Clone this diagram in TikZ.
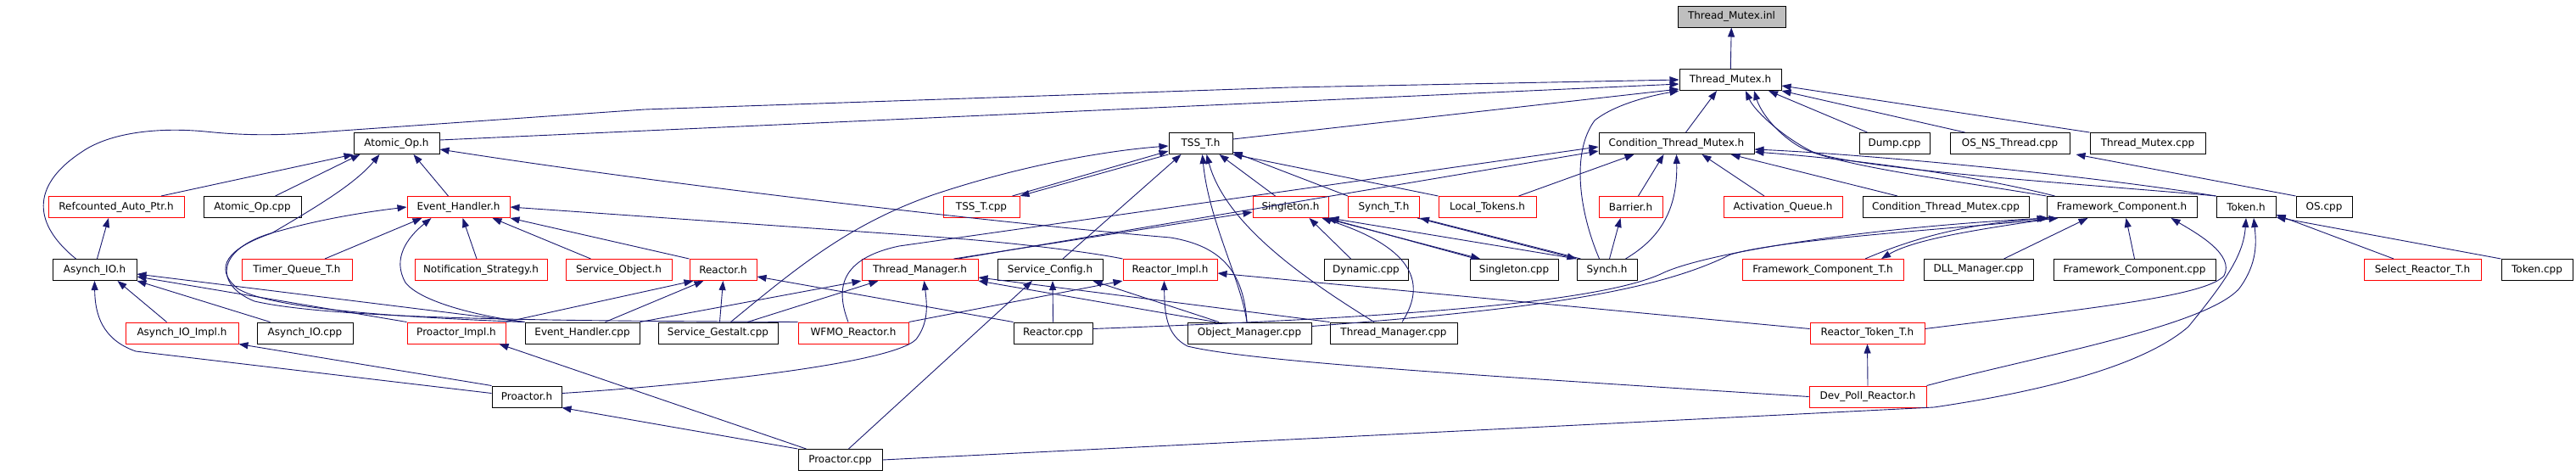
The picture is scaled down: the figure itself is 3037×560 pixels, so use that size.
\documentclass[tikz,border=0pt]{standalone}
\usepackage{fontspec}
\setmainfont{DejaVu Sans}
\usepackage{tikz}
\usetikzlibrary{arrows.meta}
\definecolor{edgeblue}{HTML}{191970}
\definecolor{boxred}{HTML}{FF0000}
\definecolor{rootgrey}{HTML}{BFBFBF}
\tikzstyle{filebox} = [rectangle, draw=black, fill=white, line width=1pt, minimum height=25pt, inner sep=0pt, font=\fontsize{12}{14}\selectfont]
\tikzstyle{undocfile} = [filebox, draw=boxred]
\tikzstyle{rootfile} = [filebox, fill=rootgrey]
\tikzstyle{includearrow} = [-{Triangle[length=11pt,width=8pt]}, draw=edgeblue, line width=0.9pt]

\begin{document}
\begin{tikzpicture}[x=1pt, y=-1pt]
	\useasboundingbox (0,0) rectangle (3037,560);
	\fill[white] (0,0) rectangle (3037,560);
	% top rows
	\node (thread_mutex_inl) [rootfile, minimum width=127pt] at (2041.5,19.5) {Thread\_Mutex.inl};
	\node (thread_mutex_h) [filebox, minimum width=120pt] at (2040,94) {Thread\_Mutex.h};
	\node (atomic_op_h) [filebox, minimum width=101pt] at (467.5,169) {Atomic\_Op.h};
	\node (tss_t_h) [filebox, minimum width=75pt] at (1415.5,169) {TSS\_T.h};
	\node (cond_thread_mutex_h) [filebox, minimum width=183pt] at (1976.5,169) {Condition\_Thread\_Mutex.h};
	\node (dump_cpp) [filebox, minimum width=83pt] at (2233.5,169) {Dump.cpp};
	\node (os_ns_thread_cpp) [filebox, minimum width=141pt] at (2369.5,169) {OS\_NS\_Thread.cpp};
	\node (thread_mutex_cpp) [filebox, minimum width=136pt] at (2532,169) {Thread\_Mutex.cpp};
	% fourth row
	\node (refcounted_auto_ptr_h) [undocfile, minimum width=160pt] at (137,244) {Refcounted\_Auto\_Ptr.h};
	\node (atomic_op_cpp) [filebox, minimum width=115pt] at (297.5,244) {Atomic\_Op.cpp};
	\node (event_handler_h) [undocfile, minimum width=121pt] at (540.5,244) {Event\_Handler.h};
	\node (tss_t_cpp) [undocfile, minimum width=90pt] at (1157,244) {TSS\_T.cpp};
	\node (singleton_h) [undocfile, minimum width=89pt] at (1521.5,244) {Singleton.h};
	\node (synch_t_h) [undocfile, minimum width=84pt] at (1631.5,244) {Synch\_T.h};
	\node (local_tokens_h) [undocfile, minimum width=115pt] at (1753.5,244) {Local\_Tokens.h};
	\node (barrier_h) [undocfile, minimum width=75pt] at (1922.5,244) {Barrier.h};
	\node (activation_queue_h) [undocfile, minimum width=140pt] at (2102,244) {Activation\_Queue.h};
	\node (cond_thread_mutex_cpp) [filebox, minimum width=196pt] at (2294,244) {Condition\_Thread\_Mutex.cpp};
	\node (framework_component_h) [filebox, minimum width=177pt] at (2501.5,244) {Framework\_Component.h};
	\node (token_h) [filebox, minimum width=70pt] at (2648,244) {Token.h};
	\node (os_cpp) [filebox, minimum width=66pt] at (2740,244) {OS.cpp};
	% fifth row
	\node (asynch_io_h) [filebox, minimum width=99pt] at (111.5,318) {Asynch\_IO.h};
	\node (timer_queue_t_h) [undocfile, minimum width=130pt] at (350,318) {Timer\_Queue\_T.h};
	\node (notification_strategy_h) [undocfile, minimum width=156pt] at (567,318) {Notification\_Strategy.h};
	\node (service_object_h) [undocfile, minimum width=125pt] at (729.5,318) {Service\_Object.h};
	\node (reactor_h) [undocfile, minimum width=79pt] at (852.5,318) {Reactor.h};
	\node (thread_manager_h) [undocfile, minimum width=137pt] at (1084.5,318) {Thread\_Manager.h};
	\node (service_config_h) [filebox, minimum width=124pt] at (1238,318) {Service\_Config.h};
	\node (reactor_impl_h) [undocfile, minimum width=111pt] at (1379.5,318) {Reactor\_Impl.h};
	\node (dynamic_cpp) [filebox, minimum width=99pt] at (1610.5,318) {Dynamic.cpp};
	\node (singleton_cpp) [filebox, minimum width=104pt] at (1785,318) {Singleton.cpp};
	\node (synch_h) [filebox, minimum width=71pt] at (1894.5,318) {Synch.h};
	\node (framework_component_t_h) [undocfile, minimum width=190pt] at (2149,318) {Framework\_Component\_T.h};
	\node (dll_manager_cpp) [filebox, minimum width=129pt] at (2332.5,318) {DLL\_Manager.cpp};
	\node (framework_component_cpp) [filebox, minimum width=191pt] at (2516.5,318) {Framework\_Component.cpp};
	\node (select_reactor_t_h) [undocfile, minimum width=138pt] at (2856,318) {Select\_Reactor\_T.h};
	\node (token_cpp) [filebox, minimum width=84pt] at (2991,318) {Token.cpp};
	% sixth row
	\node (asynch_io_impl_h) [undocfile, minimum width=133pt] at (214.5,392.5) {Asynch\_IO\_Impl.h};
	\node (asynch_io_cpp) [filebox, minimum width=113pt] at (359.5,392.5) {Asynch\_IO.cpp};
	\node (proactor_impl_h) [undocfile, minimum width=116pt] at (538,392.5) {Proactor\_Impl.h};
	\node (event_handler_cpp) [filebox, minimum width=135pt] at (686.5,392.5) {Event\_Handler.cpp};
	\node (service_gestalt_cpp) [filebox, minimum width=141pt] at (846.5,392.5) {Service\_Gestalt.cpp};
	\node (wfmo_reactor_h) [undocfile, minimum width=130pt] at (1006,392.5) {WFMO\_Reactor.h};
	\node (reactor_cpp) [filebox, minimum width=93pt] at (1241.5,392.5) {Reactor.cpp};
	\node (object_manager_cpp) [filebox, minimum width=146pt] at (1473,392.5) {Object\_Manager.cpp};
	\node (thread_manager_cpp) [filebox, minimum width=150pt] at (1643,392.5) {Thread\_Manager.cpp};
	\node (reactor_token_t_h) [undocfile, minimum width=135pt] at (2201.5,392.5) {Reactor\_Token\_T.h};
	% bottom rows
	\node (proactor_h) [filebox, minimum width=82pt] at (621,467.5) {Proactor.h};
	\node (dev_poll_reactor_h) [undocfile, minimum width=138pt] at (2202,467.5) {Dev\_Poll\_Reactor.h};
	\node (proactor_cpp) [filebox, minimum width=99pt] at (990.5,542) {Proactor.cpp};

	% Thread_Mutex.h and Thread_Mutex.inl
	\draw [includearrow] (thread_mutex_h) -- (thread_mutex_inl);
	\draw [includearrow] ([xshift=-22pt]asynch_io_h.north) .. controls (40,265) and (35,220) .. (95,180) .. controls (130,155) and (190,150) .. (242,155) .. controls (290,160) and (330,160) .. (388,155) -- (760,129) -- (1520,103) -- (thread_mutex_h.west);
	\draw [includearrow] ([yshift=4pt]atomic_op_h.east) -- ([yshift=-5pt]thread_mutex_h.west);
	\draw [includearrow] ([yshift=5pt]tss_t_h.east) -- ([yshift=2pt]thread_mutex_h.south west);
	\draw [includearrow] ([xshift=11pt]cond_thread_mutex_h.north) -- ([xshift=-16pt]thread_mutex_h.south);
	\draw [includearrow] ([xshift=-9pt]synch_h.north) .. controls (1862,250) and (1852,180) .. (1880,142) .. controls (1905,122) and (1950,112) .. (thread_mutex_h.south west);
	\draw [includearrow] ([xshift=-32pt]dump_cpp.north) -- ([xshift=45pt]thread_mutex_h.south);
	\draw [includearrow] ([xshift=-53pt]os_ns_thread_cpp.north) -- (thread_mutex_h.south east);
	\draw [includearrow] (thread_mutex_cpp.north west) -- ([yshift=-7pt]thread_mutex_h.east);
	\draw [includearrow] (framework_component_h.north west) .. controls (2300,212) and (2160,195) .. (2120,172) .. controls (2092,155) and (2075,130) .. ([xshift=28pt]thread_mutex_h.south);
	\draw [includearrow] (token_h.north west) .. controls (2500,220) and (2180,200) .. (2135,178) .. controls (2100,160) and (2068,130) .. ([xshift=18pt]thread_mutex_h.south);
	\draw [includearrow] (os_cpp.north west) -- ([xshift=7pt]os_ns_thread_cpp.south east);

	% Condition_Thread_Mutex.h
	\draw [includearrow] (token_h.north west) .. controls (2450,205) and (2200,182) .. ([yshift=-7pt]cond_thread_mutex_h.east);
	\draw [includearrow] ([xshift=10pt]framework_component_h.north west) .. controls (2300,200) and (2150,185) .. ([yshift=-10pt]cond_thread_mutex_h.east);
	\draw [includearrow] ([xshift=-57pt]cond_thread_mutex_cpp.north) -- ([xshift=64pt]cond_thread_mutex_h.south);
	\draw [includearrow] ([xshift=-22pt]activation_queue_h.north) -- ([xshift=30pt]cond_thread_mutex_h.south);
	\draw [includearrow] ([xshift=9pt]barrier_h.north) -- ([xshift=-15pt]cond_thread_mutex_h.south);
	\draw [includearrow] ([xshift=22pt]synch_h.north) .. controls (1955,282) and (1978,250) .. (cond_thread_mutex_h.south);
	\draw [includearrow] ([xshift=37pt]local_tokens_h.north) -- ([xshift=-50pt]cond_thread_mutex_h.south);
	\draw [includearrow] ([xshift=3pt]synch_h.north) -- ([xshift=-12pt]barrier_h.south);
	\draw [includearrow] ([xshift=45pt]thread_manager_h.north) -- ([yshift=-9pt]cond_thread_mutex_h.west);
	\draw [includearrow] ([xshift=-6pt]wfmo_reactor_h.north) .. controls (985,340) and (990,305) .. (1060,290) -- ([yshift=-4pt]cond_thread_mutex_h.west);

	% TSS_T.h
	\draw [includearrow] (synch_t_h.north west) -- ([yshift=3pt]tss_t_h.south east);
	\draw [includearrow] (local_tokens_h.north west) -- (tss_t_h.south east);
	\draw [includearrow] ([xshift=-9pt]tss_t_cpp.north east) -- ([yshift=4pt]tss_t_h.south west);
	\draw [includearrow] (tss_t_h.south west) -- (tss_t_cpp.north east);
	\draw [includearrow] ([xshift=15pt]service_gestalt_cpp.north) .. controls (940,315) and (1000,265) .. (1099,230) .. controls (1200,196) and (1300,178) .. ([yshift=-3pt]tss_t_h.west);
	\draw [includearrow] ([xshift=15pt]service_config_h.north) -- ([xshift=-23pt]tss_t_h.south);
	\draw [includearrow] ([xshift=-18pt]singleton_h.north) -- ([xshift=22pt]tss_t_h.south);
	\draw [includearrow] ([xshift=-3pt]object_manager_cpp.north) .. controls (1463,330) and (1425,260) .. ([xshift=2pt]tss_t_h.south);
	\draw [includearrow] ([xshift=-23pt]thread_manager_cpp.north) .. controls (1540,330) and (1445,265) .. ([xshift=7pt]tss_t_h.south);

	% Singleton.h and Synch.h
	\draw [includearrow] ([xshift=-18pt]dynamic_cpp.north) -- ([xshift=22pt]singleton_h.south);
	\draw [includearrow] ([xshift=-45pt]singleton_cpp.north) -- ([xshift=-2pt]singleton_h.south east);
	\draw [includearrow] ([xshift=-5pt]singleton_h.south east) -- ([xshift=-40pt]singleton_cpp.north);
	\draw [includearrow] (synch_h.north west) -- ([xshift=1pt]singleton_h.south east);
	\draw [includearrow] ([xshift=10pt]thread_manager_cpp.north) .. controls (1685,330) and (1660,290) .. ([xshift=-8pt]singleton_h.south east);
	\draw [includearrow] ([xshift=40pt]thread_manager_h.north) -- ([yshift=-6pt]singleton_h.west);
	\draw [includearrow] ([xshift=5pt]synch_h.north west) -- (synch_t_h.south east);
	\draw [includearrow] ([xshift=-3pt]synch_t_h.south east) -- (synch_h.north west);

	% Framework_Component.h
	\draw [includearrow] ([xshift=30pt]dll_manager_cpp.north) -- ([xshift=-40pt]framework_component_h.south);
	\draw [includearrow] (framework_component_cpp.north) -- ([xshift=5pt]framework_component_h.south);
	\draw [includearrow] ([yshift=5pt]reactor_token_t_h.east) .. controls (2450,365) and (2600,350) .. (2622,325) .. controls (2635,300) and (2590,275) .. ([xshift=58pt]framework_component_h.south);
	\draw [includearrow] ([xshift=50pt]framework_component_t_h.north) .. controls (2280,270) and (2350,262) .. (framework_component_h.south west);
	\draw [includearrow] ([xshift=10pt]framework_component_h.south west) .. controls (2350,268) and (2260,280) .. ([xshift=69pt]framework_component_t_h.north);
	\draw [includearrow] ([yshift=5pt]reactor_cpp.east) .. controls (1600,376) and (1880,360) .. (1960,322) .. controls (2010,298) and (2200,268) .. ([xshift=3pt]framework_component_h.south west);
	\draw [includearrow] ([yshift=8pt]object_manager_cpp.east) .. controls (1800,365) and (1950,345) .. (2040,300) .. controls (2100,282) and (2300,270) .. ([xshift=14pt]framework_component_h.south west);

	% Token.h
	\draw [includearrow] ([xshift=-34pt]select_reactor_t_h.north) -- ([yshift=4pt]token_h.south east);
	\draw [includearrow] (token_cpp.north west) -- ([yshift=1pt]token_h.south east);
	\draw [includearrow] (dev_poll_reactor_h.north east) .. controls (2400,420) and (2600,385) .. (2640,340) .. controls (2662,310) and (2660,285) .. ([xshift=9pt]token_h.south);
	\draw [includearrow] (proactor_cpp.east) -- (2280,480) .. controls (2450,455) and (2540,420) .. (2580,385) .. controls (2625,330) and (2645,300) .. (token_h.south);

	% Reactor_Impl.h and Reactor_Token_T.h
	\draw [includearrow] (wfmo_reactor_h.north east) -- (reactor_impl_h.south west);
	\draw [includearrow] (dev_poll_reactor_h.west) .. controls (1700,440) and (1470,425) .. (1400,408) .. controls (1375,395) and (1373,370) .. ([xshift=-7pt]reactor_impl_h.south);
	\draw [includearrow] ([yshift=5pt]reactor_token_t_h.west) -- ([yshift=-4pt]reactor_impl_h.east);
	\draw [includearrow] (dev_poll_reactor_h.north) -- (reactor_token_t_h.south);

	% Reactor.h
	\draw [includearrow] (proactor_impl_h.north east) -- ([xshift=5pt]reactor_h.south west);
	\draw [includearrow] ([xshift=27pt]event_handler_cpp.north) -- ([xshift=17pt]reactor_h.south west);
	\draw [includearrow] ([xshift=2pt]service_gestalt_cpp.north) -- (reactor_h.south);
	\draw [includearrow] (reactor_cpp.north west) -- ([yshift=-8pt]reactor_h.east);

	% Thread_Manager.h and Service_Config.h
	\draw [includearrow] (event_handler_cpp.north east) -- (thread_manager_h.south west);
	\draw [includearrow] ([xshift=35pt]service_gestalt_cpp.north) -- ([xshift=20pt]thread_manager_h.south west);
	\draw [includearrow] ([yshift=4pt]proactor_h.east) .. controls (800,455) and (1050,430) .. (1080,400) .. controls (1095,380) and (1093,360) .. ([xshift=5pt]thread_manager_h.south);
	\draw [includearrow] ([xshift=-40pt]object_manager_cpp.north) -- (thread_manager_h.south east);
	\draw [includearrow] (thread_manager_cpp.north west) -- ([yshift=4pt]thread_manager_h.south east);
	\draw [includearrow] ([xshift=10pt]proactor_cpp.north) -- ([xshift=-21pt]service_config_h.south);
	\draw [includearrow] (reactor_cpp.north) -- ([xshift=3pt]service_config_h.south);
	\draw [includearrow] ([xshift=-36pt]object_manager_cpp.north) -- ([xshift=-12pt]service_config_h.south east);

	% Event_Handler.h
	\draw [includearrow] ([xshift=33pt]timer_queue_t_h.north) -- ([xshift=-43pt]event_handler_h.south);
	\draw [includearrow] (event_handler_cpp.north west) .. controls (560,372) and (495,355) .. (478,333) .. controls (462,305) and (480,280) .. ([xshift=-32pt]event_handler_h.south);
	\draw [includearrow] ([xshift=-5pt]notification_strategy_h.north) -- ([xshift=5pt]event_handler_h.south);
	\draw [includearrow] ([xshift=-33pt]service_object_h.north) -- ([xshift=40pt]event_handler_h.south);
	\draw [includearrow] (reactor_h.north west) -- (event_handler_h.south east);
	\draw [includearrow] (reactor_impl_h.north west) .. controls (1290,298) and (1200,286) .. (1100,279) -- (event_handler_h.east);
	\draw [includearrow] (wfmo_reactor_h.north west) .. controls (700,378) and (400,378) .. (300,355) .. controls (250,335) and (255,290) .. (330,272) .. controls (380,258) and (430,250) .. (event_handler_h.west);

	% Atomic_Op.h
	\draw [includearrow] ([xshift=-12pt]event_handler_h.north) -- ([xshift=20pt]atomic_op_h.south);
	\draw [includearrow] ([xshift=53pt]refcounted_auto_ptr_h.north) -- (atomic_op_h.south west);
	\draw [includearrow] ([xshift=27pt]atomic_op_cpp.north) -- ([xshift=8pt]atomic_op_h.south west);
	\draw [includearrow] ([xshift=-3pt]event_handler_cpp.north west) .. controls (480,374) and (320,365) .. (280,340) .. controls (250,315) and (270,292) .. (320,275) .. controls (380,240) and (420,215) .. ([xshift=-20pt]atomic_op_h.south);
	\draw [includearrow] ([xshift=-3pt]object_manager_cpp.north) .. controls (1466,320) and (1440,290) .. (1380,280) .. controls (1200,265) and (800,220) .. ([yshift=-7pt]atomic_op_h.east);

	% Asynch_IO.h and Proactor
	\draw [includearrow] ([xshift=-18pt]asynch_io_impl_h.north) -- ([xshift=27pt]asynch_io_h.south);
	\draw [includearrow] ([xshift=-41pt]asynch_io_cpp.north) -- (asynch_io_h.south east);
	\draw [includearrow] (proactor_impl_h.north west) -- ([yshift=-8pt]asynch_io_h.east);
	\draw [includearrow] (event_handler_cpp.north west) -- ([yshift=-5pt]asynch_io_h.east);
	\draw [includearrow] ([yshift=4pt]proactor_h.west) -- (160,414) .. controls (120,400) and (112,370) .. (asynch_io_h.south);
	\draw [includearrow] ([xshift=3pt]asynch_io_h.north) -- ([xshift=-9pt]refcounted_auto_ptr_h.south);
	\draw [includearrow] (proactor_h.north west) -- (asynch_io_impl_h.south east);
	\draw [includearrow] (proactor_cpp.north west) -- (proactor_h.south east);
	\draw [includearrow] ([xshift=10pt]proactor_cpp.north west) -- ([xshift=-8pt]proactor_impl_h.south east);
\end{tikzpicture}
\end{document}
